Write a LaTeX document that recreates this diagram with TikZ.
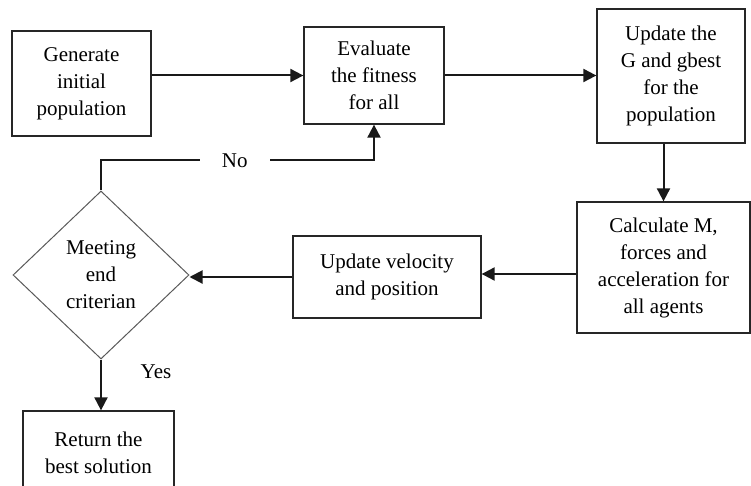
\documentclass[tikz,border=0pt]{standalone}
\usepackage{fontspec}
\setmainfont{Liberation Serif}
\usetikzlibrary{shapes.geometric,arrows.meta,calc}
\begin{document}
\begin{tikzpicture}[x=1pt,y=-1pt,
  every node/.style={font=\fontsize{21}{27}\selectfont, align=center, inner sep=0pt},
  box/.style={draw=black!85, line width=1.3pt, rectangle},
  decision/.style={draw=black!65, line width=1pt, diamond},
  arr/.style={draw=black!90, line width=2pt, -{Triangle[length=13pt,width=13pt]}},
  line/.style={draw=black!90, line width=1.5pt}]
\useasboundingbox (0,0) rectangle (751,486);
\node[box, minimum width=139pt, minimum height=105pt] (gen) at (81.5,83.5) {Generate\\initial\\population};
\node[box, minimum width=140pt, minimum height=97pt] (eval) at (374,75.5) {Evaluate\\the fitness\\for all};
\node[box, minimum width=148pt, minimum height=134pt] (upd) at (671,76) {Update the\\G and gbest\\for the\\population};
\node[box, minimum width=173pt, minimum height=131pt] (calc) at (663.5,267.5) {Calculate M,\\forces and\\acceleration for\\all agents};
\node[box, minimum width=188pt, minimum height=82pt] (vel) at (387,277) {Update velocity\\and position};
\node[decision, minimum width=176pt, minimum height=168pt] (dia) at (101,275) {Meeting\\end\\criterian};
\node[box, minimum width=151pt, minimum height=84pt] (ret) at (98.5,453) {Return the\\best solution};
\node (yes) at (156,372) {Yes};

\draw[arr] (gen.east |- eval.west) -- (eval.west);
\draw[arr] (eval.east) -- (upd.west |- eval.east);
\draw[arr] (calc.north |- upd.south) -- (calc.north);
\coordinate (c1) at ([yshift=-6.5pt]calc.west);
\draw[arr] (c1) -- (c1 -| vel.east);
\draw[arr] (vel.west) -- (vel.west -| dia.east);
\draw[arr] (dia.south) -- (dia.south |- ret.north);
\draw[arr] (dia.north) -- ++(0,-30) -| node[pos=0.245, fill=white, inner xsep=22pt, inner ysep=4pt] (no) {No} (eval.south);
\end{tikzpicture}
\end{document}
